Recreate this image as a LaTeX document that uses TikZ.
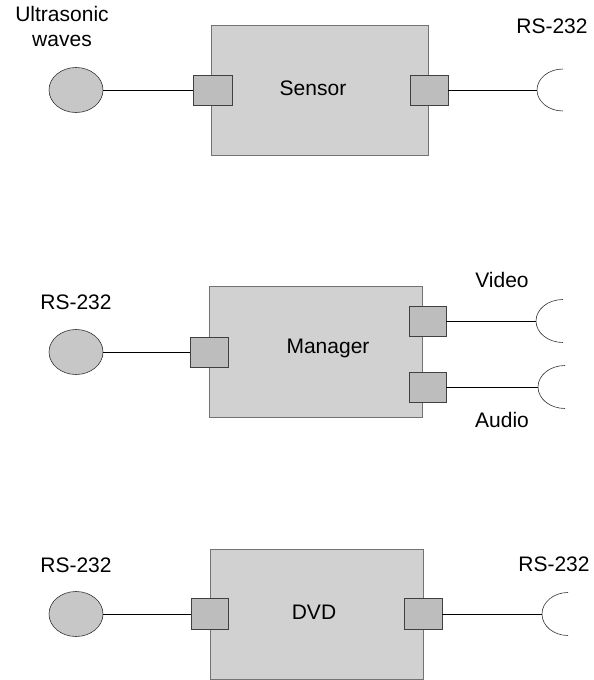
\documentclass[tikz,border=0pt]{standalone}
\usepackage{fontspec}
\setmainfont{Liberation Sans}
\usepackage{tikz}
\usetikzlibrary{shapes.geometric,positioning}
\tikzset{
    unitbox/.style={
        draw=black!55,
        line width=0.6pt,
        fill=black!18,
        inner sep=0pt
    },
    portbox/.style={
        draw=black!75,
        line width=0.6pt,
        fill=black!26,
        minimum width=38pt,
        minimum height=30pt,
        inner sep=0pt
    },
    % source side of a link
    srcnode/.style={
        ellipse,
        draw=black!80,
        line width=0.6pt,
        fill=black!22,
        minimum width=54pt,
        minimum height=45pt,
        inner sep=0pt
    },
    wire/.style={line width=0.8pt, black},
    plugarc/.style={line width=0.6pt, black!80},
    lbl/.style={font=\fontsize{21}{25}\selectfont, anchor=base, inner sep=0pt}
}

\begin{document}
\begin{tikzpicture}[x=1pt, y=-1pt]
        \useasboundingbox (0,0) rectangle (594,680);

        % Sensor
        \node[unitbox, minimum width=217pt, minimum height=130pt] (sensor) at (319.5,90) {};
        \node[portbox, minimum width=39pt] (sensorin) at (212.5,90) {};
        \node[portbox] (sensorout) at (429,90) {};
        \node[srcnode] (sensorsrc) at (76,90) {};
        \coordinate (sensorplug) at (537,90);
        \node[lbl] (sensorlbl) at (313,95) {Sensor};
        \node[lbl, anchor=center, align=center] (ultralbl) at (62,26) {Ultrasonic\\waves};
        \node[lbl] (sensorrs) at (552,33) {RS-232};

        \draw[wire] (sensorsrc) to (sensorin);
        \draw[wire] (sensorout) to (sensorplug);
        \draw[plugarc] (sensorplug) ++(26pt,21pt) arc[start angle=90, end angle=270, x radius=26pt, y radius=21pt];

        % Manager
        \node[unitbox, minimum width=213pt, minimum height=131pt] (manager) at (315.5,351.5) {};
        \node[portbox] (managerin) at (209,352) {};
        \node[portbox, minimum width=37pt] (videoout) at (427.5,321) {};
        \node[portbox, minimum width=37pt] (audioout) at (427.5,387) {};
        \node[srcnode] (managersrc) at (76,352) {};
        \coordinate (videoplug) at (536,321);
        \coordinate (audioplug) at (538,387);
        \node[lbl] (managerlbl) at (328,353) {Manager};
        \node[lbl] (managerrs) at (76,309) {RS-232};
        \node[lbl] (videolbl) at (502,287) {Video};
        \node[lbl] (audiolbl) at (502,427) {Audio};

        \draw[wire] (managersrc) to (managerin);
        \draw[wire] (videoout) to (videoplug);
        \draw[wire] (audioout) to (audioplug);
        \draw[plugarc] (videoplug) ++(27pt,21.5pt) arc[start angle=90, end angle=270, x radius=27pt, y radius=21.5pt];
        \draw[plugarc] (audioplug) ++(27pt,21.5pt) arc[start angle=90, end angle=270, x radius=27pt, y radius=21.5pt];

        % DVD
        \node[unitbox, minimum width=213pt, minimum height=130pt] (dvd) at (316.5,614) {};
        \node[portbox, minimum width=37pt, minimum height=31pt] (dvdin) at (209.5,614) {};
        \node[portbox, minimum height=31pt] (dvdout) at (423,614) {};
        \node[srcnode] (dvdsrc) at (76,614) {};
        \coordinate (dvdplug) at (542,614);
        \node[lbl] (dvdlbl) at (314,619) {DVD};
        \node[lbl] (dvdrsin) at (76,572) {RS-232};
        \node[lbl] (dvdrsout) at (554,571) {RS-232};

        \draw[wire] (dvdsrc) to (dvdin);
        \draw[wire] (dvdout) to (dvdplug);
        \draw[plugarc] (dvdplug) ++(26pt,21.5pt) arc[start angle=90, end angle=270, x radius=26pt, y radius=21.5pt];
\end{tikzpicture}
\end{document}
